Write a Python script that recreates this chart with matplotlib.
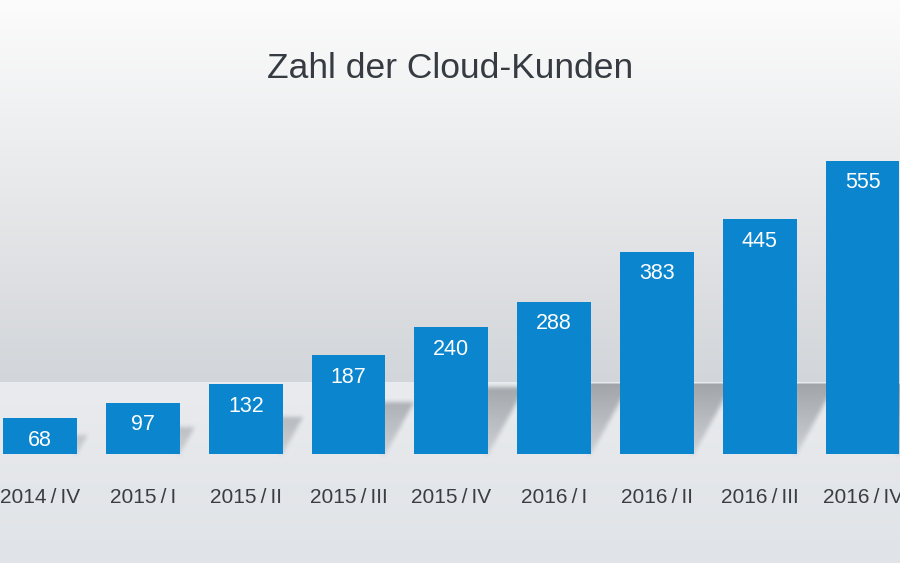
import numpy as np
import matplotlib.pyplot as plt

plt.rcParams['font.family'] = ['Liberation Sans', 'DejaVu Sans']

# Daten
quartale = ['2014/IV', '2015/I', '2015/II', '2015/III', '2015/IV',
            '2016/I', '2016/II', '2016/III', '2016/IV']
kunden = [68, 97, 132, 187, 240, 288, 383, 445, 555]
titel = 'Zahl der Cloud-Kunden'

W, H = 900, 563
fig = plt.figure(figsize=(W / 100, H / 100), dpi=100)
ax = fig.add_axes([0, 0, 1, 1])
ax.set_axis_off()
xlim = (-0.391, 8.364)
ylim = (-206.4, 859.8)
ax.set_xlim(*xlim)
ax.set_ylim(*ylim)

x = np.arange(len(kunden))
breite = 0.718

# Hintergrund: Wand mit Verlauf, darunter hellerer Boden
boden_zeile = 382
rows = np.arange(H)[:, None]
oben = np.array([252, 252, 252]) / 255
unten = np.array([210, 213, 217]) / 255
t = np.clip(rows / boden_zeile, 0, 1)
bg = oben + (unten - oben) * t
boden_oben = np.array([233, 235, 238]) / 255
boden_unten = np.array([224, 227, 231]) / 255
tb = np.clip((rows - boden_zeile) / (H - boden_zeile), 0, 1)
bg = np.where(rows >= boden_zeile, boden_oben + (boden_unten - boden_oben) * tb, bg)
bg = np.repeat(bg[:, None, :], W, axis=1)
ax.imshow(bg, extent=(0, 1, 0, 1), transform=ax.transAxes, aspect='auto', zorder=0)


# Schatten der Balken auf dem Boden
def blur1d(a, r, axis):
    pad = [(0, 0), (0, 0)]
    pad[axis] = (r + 1, r)
    p = np.pad(a, pad, mode='edge')
    c = np.cumsum(p, axis=axis)
    k = 2 * r + 1
    if axis == 0:
        return (c[k:] - c[:-k]) / k
    return (c[:, k:] - c[:, :-k]) / k


Yg, Xg = np.mgrid[0:H, 0:W] + 0.5
alpha = np.zeros((H, W))
for xi, v in zip(x, kunden):
    (L, B), (R, T) = ax.transData.transform([(xi - breite / 2, 0), (xi + breite / 2, v)])
    B, T = H - B, H - T
    hoch = B - T
    rise = B - Yg
    m = ((Xg >= R - 3) & (Xg <= R + 0.55 * rise) & (rise >= -1)
         & (rise <= 0.53 * hoch))
    a = 0.15 + 0.30 * np.clip(rise / (B - boden_zeile), 0, 1)
    alpha = np.maximum(alpha, np.where(m, a, 0))
for _ in range(2):
    alpha = blur1d(blur1d(alpha, 2, 0), 2, 1)
alpha = alpha * np.clip(Yg - boden_zeile - 1, 0, 1)
sh = np.zeros((H, W, 4))
sh[..., :3] = np.array([70, 75, 82]) / 255
sh[..., 3] = alpha
ax.imshow(sh, extent=(0, 1, 0, 1), transform=ax.transAxes, aspect='auto', zorder=1)

# Balken
ax.bar(x, kunden, width=breite, color='#0a85ce', zorder=2)

for xi, v, q in zip(x, kunden, quartale):
    ax.annotate(str(v), (xi, v), xytext=(0, -22), textcoords='offset pixels',
                ha='center', va='center', color='white', fontsize=15.5, zorder=3)
    ax.annotate(q.replace('/', '\u2009/\u2009'), (xi, 0),
                xytext=(0, -43), textcoords='offset pixels',
                ha='center', va='center', color='#3a3e42', fontsize=15, zorder=3)

fig.text(0.5, 1 - 68 / H, titel, ha='center', va='center', color='#353b41', fontsize=25.5)

ax.set_xlim(*xlim)
ax.set_ylim(*ylim)
fig.savefig('out.png', dpi=100)
